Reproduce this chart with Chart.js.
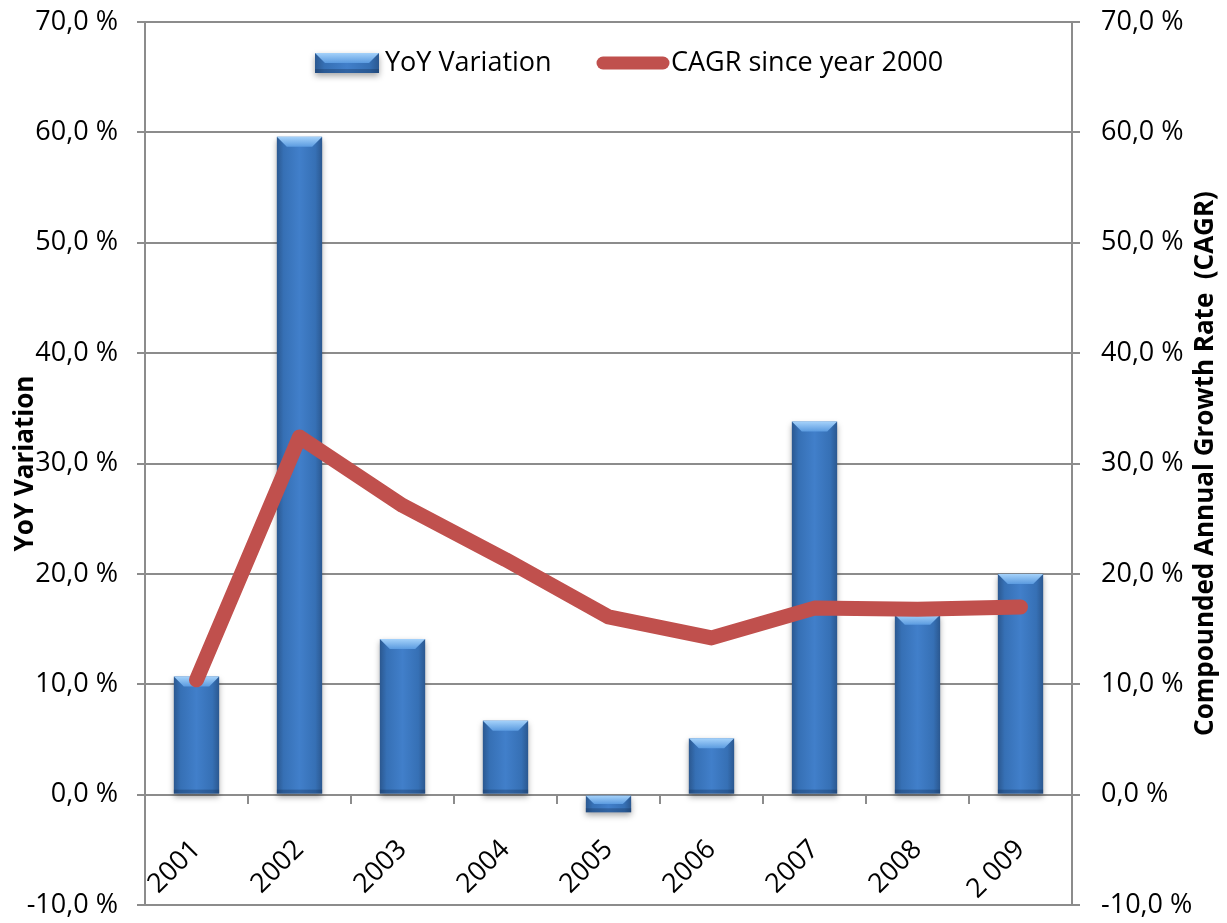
<!DOCTYPE html>
<html>
<head>
<meta charset="utf-8">
<script src="https://cdn.jsdelivr.net/npm/chart.js@4/dist/chart.umd.min.js"></script>
<style>
  html, body { margin: 0; padding: 0; background: #fff; }
  #wrap { width: 1227px; height: 923px; position: relative; }
</style>
</head>
<body>
<div id="wrap"><canvas id="cagrChart"></canvas></div>
<script>
// =============================
// DADOS
// =============================
const anos = ["2001", "2002", "2003", "2004", "2005", "2006", "2007", "2008", "2 009"]
const variacaoYoY = [10.7, 59.6, 14.1, 6.7, -1.6, 5.1, 33.8, 16.3, 20.0]
const cagr = [10.4, 32.4, 26.2, 21.3, 16.1, 14.2, 16.9, 16.8, 17.0]
const escalaMin = -10
const escalaMax = 70
const passo = 10
const legendas = ["YoY Variation", "CAGR since year 2000"]

const cinza = "#8c8c8c"
const vermelho = "#c0504d"
const fonte = "'Open Sans', sans-serif"

function formatoPct(v){
    return v.toFixed(1).replace(".", ",") + " %"
}

// gradiente horizontal usado nas barras e na legenda
function gradienteBarra(ctx, x0, x1){
    const g = ctx.createLinearGradient(x0, 0, x1, 0)
    g.addColorStop(0, "#2b5890")
    g.addColorStop(0.15, "#3670b5")
    g.addColorStop(0.5, "#417fca")
    g.addColorStop(0.85, "#3670b5")
    g.addColorStop(1, "#2b5890")
    return g
}

function desenhaBisel(ctx, x0, x1, topo, fundo){
    const h = fundo - topo
    ctx.save()
    ctx.shadowColor = "rgba(0,0,0,0.35)"
    ctx.shadowBlur = 6
    ctx.shadowOffsetY = 3
    ctx.fillStyle = gradienteBarra(ctx, x0, x1)
    ctx.fillRect(x0, topo, x1 - x0, h)
    ctx.restore()
    const b = Math.min(10, h / 2)
    const gc = ctx.createLinearGradient(0, topo, 0, topo + b)
    gc.addColorStop(0, "#a5d2fa")
    gc.addColorStop(1, "#5b9be0")
    ctx.fillStyle = gc
    ctx.beginPath()
    ctx.moveTo(x0, topo)
    ctx.lineTo(x1, topo)
    ctx.lineTo(x1 - b, topo + b)
    ctx.lineTo(x0 + b, topo + b)
    ctx.closePath()
    ctx.fill()
    ctx.fillStyle = "rgba(20,50,90,0.35)"
    ctx.fillRect(x0, fundo - 4, x1 - x0, 4)
}

// Efeito de bisel nas barras (estilo Excel)
const biselBarras = {
    id: "biselBarras",
    afterDatasetDraw(chart, args){
        if(args.meta.type !== "bar") return
        const ctx = chart.ctx
        args.meta.data.forEach(el => {
            const x0 = el.x - el.width / 2
            const x1 = el.x + el.width / 2
            desenhaBisel(ctx, x0, x1, Math.min(el.y, el.base), Math.max(el.y, el.base))
        })
    }
}

// Legenda dentro da área do gráfico + título do eixo direito
const extras = {
    id: "extras",
    afterDraw(chart){
        const ctx = chart.ctx
        const area = chart.chartArea
        const ly = area.top + 41

        ctx.save()
        // item das barras
        const bx = area.left + 170
        desenhaBisel(ctx, bx, bx + 64, ly - 10, ly + 10)
        ctx.font = "27px " + fonte
        ctx.fillStyle = "#000"
        ctx.textBaseline = "middle"
        ctx.textAlign = "left"
        ctx.fillText(legendas[0], bx + 70, ly)

        // item da linha
        const lx = area.left + 458
        ctx.strokeStyle = vermelho
        ctx.lineWidth = 13
        ctx.lineCap = "round"
        ctx.beginPath()
        ctx.moveTo(lx, ly)
        ctx.lineTo(lx + 60, ly)
        ctx.stroke()
        ctx.fillText(legendas[1], lx + 68, ly)
        ctx.restore()

        // título do eixo direito, lido de baixo para cima
        ctx.save()
        ctx.translate(1206, (area.top + area.bottom) / 2)
        ctx.rotate(-Math.PI / 2)
        ctx.font = "bold 26px " + fonte
        ctx.fillStyle = "#000"
        ctx.textAlign = "center"
        ctx.textBaseline = "middle"
        ctx.fillText("Compounded Annual Growth Rate  (CAGR)", 0, 0)
        ctx.restore()
    }
}

// zera o espaço extra que as escalas pedem em cima e embaixo
function semPaddingVertical(s){
    s.paddingTop = 0
    s.paddingBottom = 0
}

// =============================
// GRÁFICO
// =============================
new Chart(document.getElementById("cagrChart").getContext("2d"), {
    data: {
        labels: anos,
        datasets: [
            {
                type: "line",
                label: legendas[1],
                data: cagr,
                yAxisID: "y1",
                borderColor: vermelho,
                backgroundColor: vermelho,
                borderWidth: 15,
                borderCapStyle: "round",
                borderJoinStyle: "round",
                pointRadius: 0,
                tension: 0,
                order: 0
            },
            {
                type: "bar",
                label: legendas[0],
                data: variacaoYoY,
                yAxisID: "y",
                backgroundColor: "rgba(0,0,0,0)",
                categoryPercentage: 1,
                barPercentage: 0.44,
                order: 1
            }
        ]
    },
    options: {
        responsive: true,
        maintainAspectRatio: false,
        animation: false,
        layout: { padding: { top: 22, bottom: 18, left: 0, right: 0 } },
        plugins: {
            tooltip: { enabled: false },
            legend: { display: false }
        },
        scales: {
            x: {
                position: { y: 0 },
                afterFit: semPaddingVertical,
                grid: { offset: true, drawOnChartArea: false, color: cinza, lineWidth: 2, tickLength: 9 },
                border: { display: false },
                ticks: { color: "#000", font: { family: fonte, size: 27 }, minRotation: 45, maxRotation: 45, padding: 30 }
            },
            y: {
                position: "left",
                min: escalaMin,
                max: escalaMax,
                afterFit(s){ s.width = 145; semPaddingVertical(s) },
                ticks: { stepSize: passo, color: "#000", font: { family: fonte, size: 27 }, padding: 19, callback: v => formatoPct(v) },
                grid: { color: cinza, lineWidth: 2, tickLength: 8 },
                border: { color: cinza, width: 2 },
                title: { display: true, text: legendas[0], color: "#000", font: { family: fonte, size: 26, weight: "bold" }, padding: 10 }
            },
            y1: {
                position: "right",
                min: escalaMin,
                max: escalaMax,
                afterFit(s){ s.width = 155; semPaddingVertical(s) },
                ticks: { stepSize: passo, color: "#000", font: { family: fonte, size: 27 }, padding: 21, callback: v => formatoPct(v) },
                grid: { drawOnChartArea: false, color: cinza, lineWidth: 2, tickLength: 8 },
                border: { color: cinza, width: 2 }
            }
        }
    },
    plugins: [biselBarras, extras]
})
</script>
</body>
</html>
